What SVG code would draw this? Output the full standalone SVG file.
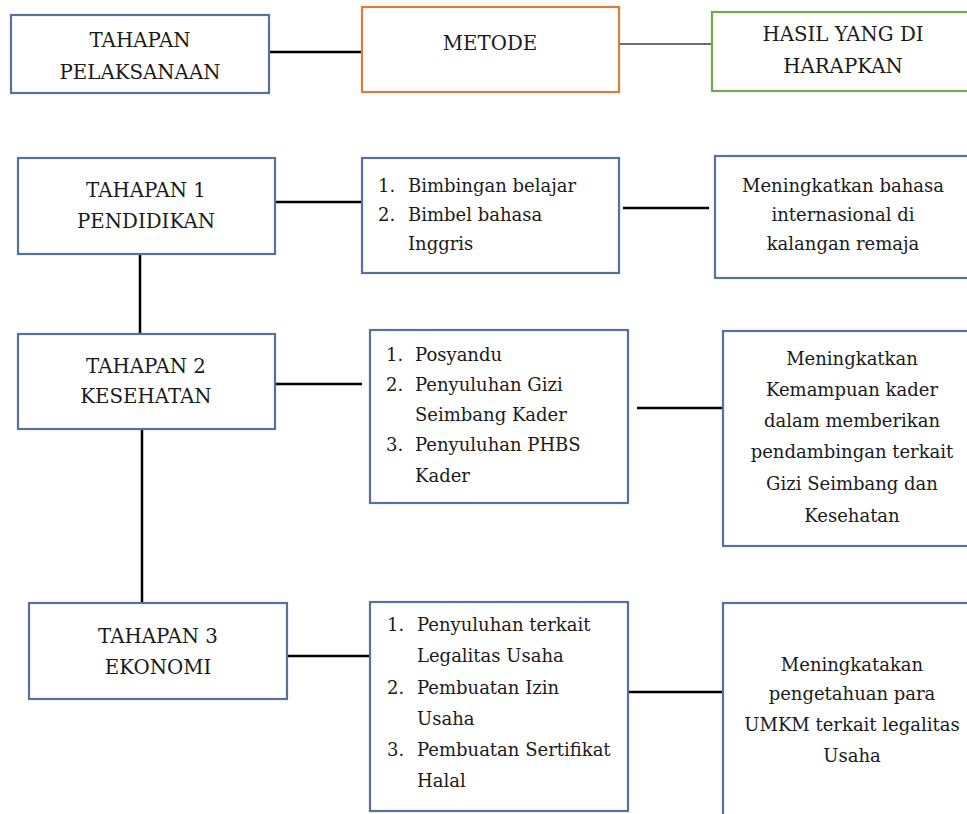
<svg xmlns="http://www.w3.org/2000/svg" width="967" height="814" viewBox="0 0 967 814">
<style>
.box{fill:#fff;stroke:#56719b;stroke-width:2.2}
.orange{stroke:#e07b3a}
.green{stroke:#72a84f}
.t{font-family:'DejaVu Serif','Liberation Serif',serif;font-size:18px;fill:#1a1a1a}
.u{font-size:19.8px}
.c{text-anchor:middle}
.ln{stroke:#000;stroke-width:2.5;fill:none}
.thin{stroke:#3a3a3a;stroke-width:1.3;fill:none}
</style>
<rect width="967" height="814" fill="#fff"/>
<g id="connectors">
<line class="ln" x1="269" y1="52" x2="362" y2="52"/>
<line class="thin" x1="619" y1="44" x2="712" y2="44"/>
<line class="ln" x1="275" y1="202" x2="362" y2="202"/>
<line class="ln" x1="623" y1="208" x2="709" y2="208"/>
<line class="ln" x1="140" y1="254" x2="140" y2="334"/>
<line class="ln" x1="275" y1="384" x2="362" y2="384"/>
<line class="ln" x1="637" y1="408" x2="723" y2="408"/>
<line class="ln" x1="142" y1="429" x2="142" y2="602"/>
<line class="ln" x1="287" y1="656" x2="370" y2="656"/>
<line class="ln" x1="628" y1="692" x2="723" y2="692"/>
</g>
<g id="tahapan-pelaksanaan">
<rect class="box" x="11" y="15" width="258" height="78"/>
<text class="t u c" x="140" y="47">TAHAPAN</text>
<text class="t u c" x="140" y="79">PELAKSANAAN</text>
</g>
<g id="metode">
<rect class="box orange" x="362" y="7" width="257" height="85"/>
<text class="t u c" x="490" y="50">METODE</text>
</g>
<g id="hasil">
<rect class="box green" x="712" y="12" width="262" height="79"/>
<text class="t u c" x="843" y="41">HASIL YANG DI</text>
<text class="t u c" x="843" y="73">HARAPKAN</text>
</g>
<g id="tahapan1">
<rect class="box" x="18" y="158" width="257" height="96"/>
<text class="t u c" x="146" y="197">TAHAPAN 1</text>
<text class="t u c" x="146" y="228">PENDIDIKAN</text>
</g>
<g id="metode1">
<rect class="box" x="362" y="158" width="257" height="115"/>
<text class="t" x="378" y="192">1.</text><text class="t" x="408" y="192">Bimbingan belajar</text>
<text class="t" x="378" y="221">2.</text><text class="t" x="408" y="221">Bimbel bahasa</text>
<text class="t" x="408" y="250">Inggris</text>
</g>
<g id="hasil1">
<rect class="box" x="715" y="156" width="262" height="122"/>
<text class="t c" x="843" y="192">Meningkatkan bahasa</text>
<text class="t c" x="843" y="221">internasional di</text>
<text class="t c" x="843" y="250">kalangan remaja</text>
</g>
<g id="tahapan2">
<rect class="box" x="18" y="334" width="257" height="95"/>
<text class="t u c" x="146" y="373">TAHAPAN 2</text>
<text class="t u c" x="146" y="403">KESEHATAN</text>
</g>
<g id="metode2">
<rect class="box" x="370" y="330" width="258" height="173"/>
<text class="t" x="386" y="361">1.</text><text class="t" x="415" y="361">Posyandu</text>
<text class="t" x="386" y="391">2.</text><text class="t" x="415" y="391">Penyuluhan Gizi</text>
<text class="t" x="415" y="421">Seimbang Kader</text>
<text class="t" x="386" y="451">3.</text><text class="t" x="415" y="451">Penyuluhan PHBS</text>
<text class="t" x="415" y="482">Kader</text>
</g>
<g id="hasil2">
<rect class="box" x="723" y="331" width="254" height="215"/>
<text class="t c" x="852" y="365">Meningkatkan</text>
<text class="t c" x="852" y="396">Kemampuan kader</text>
<text class="t c" x="852" y="427">dalam memberikan</text>
<text class="t c" x="852" y="458">pendambingan terkait</text>
<text class="t c" x="852" y="490">Gizi Seimbang dan</text>
<text class="t c" x="852" y="522">Kesehatan</text>
</g>
<g id="tahapan3">
<rect class="box" x="29" y="603" width="258" height="96"/>
<text class="t u c" x="158" y="643">TAHAPAN 3</text>
<text class="t u c" x="158" y="674">EKONOMI</text>
</g>
<g id="metode3">
<rect class="box" x="370" y="602" width="258" height="209"/>
<text class="t" x="387" y="631">1.</text><text class="t" x="417" y="631">Penyuluhan terkait</text>
<text class="t" x="417" y="662">Legalitas Usaha</text>
<text class="t" x="387" y="694">2.</text><text class="t" x="417" y="694">Pembuatan Izin</text>
<text class="t" x="417" y="725">Usaha</text>
<text class="t" x="387" y="756">3.</text><text class="t" x="417" y="756">Pembuatan Sertifikat</text>
<text class="t" x="417" y="787">Halal</text>
</g>
<g id="hasil3">
<rect class="box" x="723" y="603" width="254" height="230"/>
<text class="t c" x="852" y="671">Meningkatakan</text>
<text class="t c" x="852" y="700">pengetahuan para</text>
<text class="t c" x="852" y="731">UMKM terkait legalitas</text>
<text class="t c" x="852" y="762">Usaha</text>
</g>
</svg>
